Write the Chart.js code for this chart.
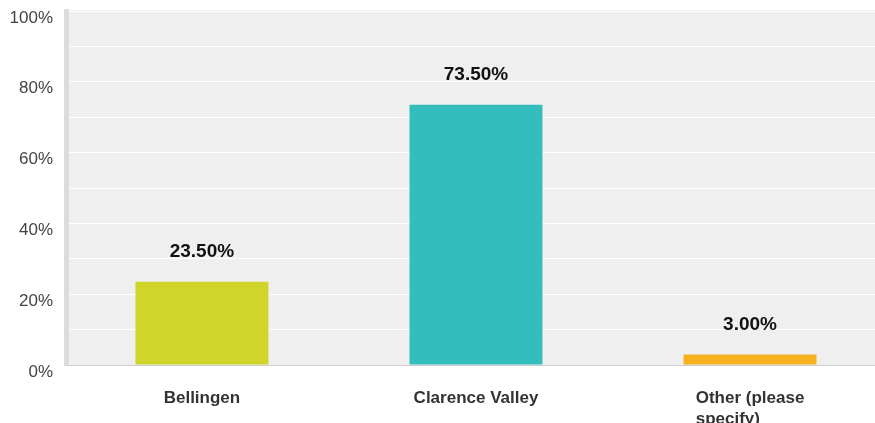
<!DOCTYPE html>
<html>
<head>
<meta charset="utf-8">
<script src="https://cdn.jsdelivr.net/npm/chart.js@4"></script>
<style>
  html, body { margin: 0; padding: 0; background: #fff; }
  #wrap { width: 875px; height: 423px; }
</style>
</head>
<body>
<div id="wrap"><canvas id="chart" width="875" height="423"></canvas></div>
<script>
// ── Data ───────────────────────────────────────────────────
const categories = ['Bellingen', 'Clarence Valley', ['Other (please', 'specify)']];
const shares = [23.5, 73.5, 3.0];
const barColors = ['#cfd52a', '#33bdbd', '#f6b120'];
const yTicks = [0, 20, 40, 60, 80, 100];

const FONT = "'Liberation Sans', Arial, sans-serif";

// ── Plot background ────────────────────────────────────────
const plotBg = {
  id: 'plotBg',
  beforeDraw(chart) {
    const { ctx, chartArea: a } = chart;
    ctx.save();
    ctx.fillStyle = '#efefef';
    ctx.fillRect(a.left, a.top - 1, a.right - a.left, a.bottom - a.top + 1);
    ctx.restore();
  }
};

// ── Axis labels: y sits a little below its gridline,
//    wrapped x labels are left-aligned inside their block ──
const axisLabels = {
  id: 'axisLabels',
  afterDraw(chart) {
    const { ctx } = chart;
    const { x, y } = chart.scales;
    ctx.save();
    ctx.font = '17px ' + FONT;
    ctx.fillStyle = '#444';
    ctx.textAlign = 'right';
    ctx.textBaseline = 'middle';
    yTicks.forEach(v => ctx.fillText(v + '%', 53, y.getPixelForValue(v) + 7));

    ctx.font = 'bold 17px ' + FONT;
    ctx.fillStyle = '#333';
    ctx.textAlign = 'left';
    categories.forEach((lab, i) => {
      const lines = [].concat(lab);
      const w = Math.max(...lines.map(l => ctx.measureText(l).width));
      const cx = x.getPixelForValue(i);
      lines.forEach((l, k) => ctx.fillText(l, cx - w / 2, 398 + k * 21));
    });
    ctx.restore();
  }
};

// ── Value labels above bars ────────────────────────────────
const valueLabels = {
  id: 'valueLabels',
  afterDatasetsDraw(chart) {
    const { ctx } = chart;
    const meta = chart.getDatasetMeta(0);
    ctx.save();
    ctx.font = 'bold 19px ' + FONT;
    ctx.fillStyle = '#111';
    ctx.textAlign = 'center';
    ctx.textBaseline = 'middle';
    meta.data.forEach((bar, i) => {
      ctx.fillText(shares[i].toFixed(2) + '%', bar.x, bar.y - 30);
    });
    ctx.restore();
  }
};

new Chart(document.getElementById('chart'), {
  type: 'bar',
  data: {
    datasets: [{
      data: shares.map((v, i) => ({ x: i, y: v })),
      backgroundColor: barColors,
      borderWidth: 0,
      barPercentage: 0.485,
      categoryPercentage: 1.0,
    }]
  },
  options: {
    responsive: false,
    animation: false,
    layout: { padding: { left: 66, top: 11, right: 0, bottom: 0 } },
    plugins: {
      legend: { display: false },
      tooltip: { enabled: false }
    },
    scales: {
      y: {
        min: 0,
        max: 100,
        ticks: { display: false, stepSize: 10 },
        grid: { color: '#ffffff', lineWidth: 1, drawTicks: false },
        border: { color: '#dcdcdc', width: 5 },
        afterFit: s => { s.width = 0; }
      },
      x: {
        type: 'linear',
        offset: false,
        min: -0.496,
        max: 2.456,
        grid: { display: false },
        border: { color: '#cfcfcf', width: 1 },
        afterBuildTicks: s => { s.ticks = s.ticks.filter(t => Number.isInteger(t.value)); },
        ticks: { display: false, stepSize: 1, autoSkip: false },
        afterFit: s => { s.height = 58; }
      }
    }
  },
  plugins: [plotBg, axisLabels, valueLabels]
});
</script>
</body>
</html>
